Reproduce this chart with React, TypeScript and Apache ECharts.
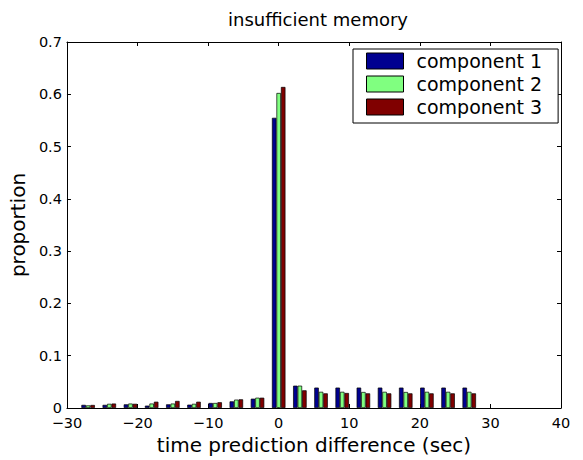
import React, { useEffect, useRef } from "react";
import * as echarts from "echarts";

const binCenters = [-27, -24, -21, -18, -15, -12, -9, -6, -3, 0, 3, 6, 9, 12, 15, 18, 21, 24, 27];
const component1 = [0.006, 0.006, 0.007, 0.0045, 0.007, 0.0064, 0.0096, 0.0127, 0.0178, 0.555, 0.0427, 0.039, 0.039, 0.039, 0.039, 0.039, 0.039, 0.039, 0.039];
const component2 = [0.005, 0.008, 0.0085, 0.0085, 0.0085, 0.008, 0.0096, 0.016, 0.0197, 0.6025, 0.0427, 0.031, 0.031, 0.0306, 0.031, 0.0306, 0.031, 0.031, 0.031];
const component3 = [0.0058, 0.0085, 0.008, 0.012, 0.0135, 0.012, 0.011, 0.0166, 0.0197, 0.614, 0.0338, 0.028, 0.0287, 0.028, 0.028, 0.028, 0.028, 0.028, 0.028];
const seriesNames = ["component 1", "component 2", "component 3"];
const seriesColors = ["#000090", "#80ff80", "#800000"];

const FONT = "DejaVu Sans, Liberation Sans, Arial, sans-serif";

export default function App() {
  const ref = useRef<HTMLDivElement>(null);
  useEffect(() => {
    if (!ref.current) return;
    const chart = echarts.init(ref.current, null, { renderer: "svg" });
    const all = [component1, component2, component3];
    const fmtX = (v: number) => (v < 0 ? "\u2212" + Math.abs(v) : String(v));
    const fmtY = (v: number) => (v === 0 ? "0" : v.toFixed(1));
    chart.setOption({
      animation: false,
      backgroundColor: "#fff",
      textStyle: { fontFamily: FONT },
      title: {
        text: "insufficient memory",
        left: 313,
        textAlign: "center",
        top: 5,
        textStyle: { fontSize: 18, fontWeight: "normal", color: "#000", fontFamily: FONT },
      },
      legend: {
        orient: "vertical",
        left: 353,
        top: 49,
        data: seriesNames,
        icon: "rect",
        itemWidth: 37,
        itemHeight: 16,
        itemGap: 3,
        padding: [2, 16, 6, 13],
        borderColor: "#000",
        borderWidth: 1,
        backgroundColor: "#fff",
        borderRadius: 0,
        itemStyle: { borderColor: "#000", borderWidth: 1 },
        textStyle: { fontSize: 19, color: "#000", fontFamily: FONT, lineHeight: 20, padding: [0, 0, 0, 8] },
      },
      grid: { left: 66, right: 22, top: 42, bottom: 52, containLabel: false },
      xAxis: [
        {
          type: "value",
          min: -30,
          max: 40,
          interval: 10,
          name: "time prediction difference (sec)",
          nameLocation: "middle",
          nameGap: 18,
          nameTextStyle: { fontSize: 20, color: "#000", fontFamily: FONT },
          axisLine: { onZero: false, lineStyle: { color: "#000", width: 1 } },
          axisTick: { inside: true, length: 4, lineStyle: { color: "#000" } },
          axisLabel: { formatter: fmtX, fontSize: 14.5, color: "#000", margin: 7, fontFamily: FONT, lineHeight: 15 },
          splitLine: { show: false },
        },
        {
          type: "value",
          position: "top",
          min: -30,
          max: 40,
          interval: 10,
          axisLine: { onZero: false, lineStyle: { color: "#000", width: 1 } },
          axisTick: { inside: true, length: 4, lineStyle: { color: "#000" } },
          axisLabel: { show: false },
          splitLine: { show: false },
        },
      ],
      yAxis: [
        {
          type: "value",
          min: 0,
          max: 0.7,
          interval: 0.1,
          name: "proportion",
          nameLocation: "middle",
          nameGap: 29,
          nameTextStyle: { fontSize: 20, color: "#000", fontFamily: FONT },
          axisLine: { show: true, onZero: false, lineStyle: { color: "#000", width: 1 } },
          axisTick: { show: true, inside: true, length: 4, lineStyle: { color: "#000" } },
          axisLabel: { formatter: fmtY, fontSize: 14.5, color: "#000", margin: 5, fontFamily: FONT, lineHeight: 13 },
          splitLine: { show: false },
        },
        {
          type: "value",
          position: "right",
          min: 0,
          max: 0.7,
          interval: 0.1,
          axisLine: { show: true, onZero: false, lineStyle: { color: "#000", width: 1 } },
          axisTick: { show: true, inside: true, length: 4, lineStyle: { color: "#000" } },
          axisLabel: { show: false },
          splitLine: { show: false },
        },
      ],
      series: all.map((vals, si) => ({
        name: seriesNames[si],
        type: "bar",
        xAxisIndex: 0,
        yAxisIndex: 0,
        barWidth: 4.5,
        barGap: "0%",
        itemStyle: { color: seriesColors[si], borderColor: "#000", borderWidth: 0.7 },
        data: binCenters.map((b, i) => [b, vals[i]]),
      })),
    });
    return () => chart.dispose();
  }, []);
  return <div ref={ref} style={{ width: 583, height: 460, position: "absolute", left: 0, top: 0 }} />;
}
